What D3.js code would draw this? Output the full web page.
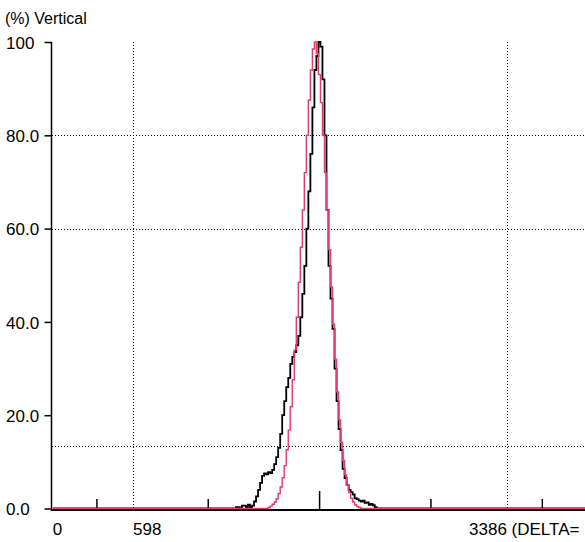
<!DOCTYPE html>
<html>
<head>
<meta charset="utf-8">
<script src="https://cdn.jsdelivr.net/npm/d3@7/dist/d3.min.js"></script>
<style>
  body { margin: 0; background: #fff; }
  text { font-family: "Liberation Sans", Arial, sans-serif; font-size: 17px; fill: #000; }
</style>
</head>
<body>
<div id="chart"></div>
<script>
// Histogram bins (position along the sensor, in pixels of the sensor)
const binStart = 1350;
const binWidth = 15;
const xMax = 3970;

// Measured vertical profile (black), % of peak, one value per bin
const measuredValues = [
  0, 0.3, 0.3, 0, 0.6, 0.6, 0.3, 0.8, 0.3, 0.6,
  1.5, 2.6, 4.0, 5.5, 7.0, 7.5, 7.3, 7.8, 7.6, 8.3,
  9.5, 11, 13, 16, 20, 23, 26, 28, 31, 32.5,
  33.5, 35, 37, 41, 46, 52, 60, 68, 76, 86,
  94, 97, 100, 99, 92, 80, 64, 52, 45, 38.5,
  30, 23, 17, 12.5, 8.5, 6.5, 5, 4, 3.5, 3,
  2.2, 2, 1.7, 1.5, 1.7, 1.2, 1.3, 0.8, 1.0, 0.7,
  0.3, 0
];

// Gaussian fit (red), % of peak, same bins
const fittedValues = [
  0, 0, 0, 0, 0, 0, 0, 0, 0, 0,
  0, 0, 0, 0, 0, 0, 0, 0.2, 0.5, 0.9,
  1.4, 2.1, 3.2, 4.6, 6.6, 9.2, 12.6, 16.8, 21.8, 27.6,
  34, 41, 48.5, 56, 64, 72, 80, 87.5, 94, 98.5,
  100, 97.5, 93, 87, 80, 72, 64, 55.5, 47.5, 39.5,
  32, 25, 19, 14.2, 10.3, 7.2, 5, 3.4, 2.2, 1.4,
  0.8, 0.4, 0.2, 0, 0, 0, 0, 0, 0, 0,
  0, 0
];

const yTickValues = [0, 20, 40, 60, 80, 100];
const yTickLabels = ['0.0', '20.0', '40.0', '60.0', '80.0', '100'];
const xTickValues = [325, 1155, 1985, 2815, 3645];
const centreTick = 1985;
const refLevels = [80, 60, 13.5];          // dotted horizontal levels (%)
const cursorPositions = [598, 3386];      // dotted vertical cursors
const xLabelValues = [0, 598, 3386];
const xLabelTexts = ['0', '598', '3386 (DELTA='];

const width = 585, height = 542;

const svg = d3.select('#chart')
  .append('svg')
  .attr('width', width)
  .attr('height', height)
  .style('display', 'block');

const x = d3.scaleLinear().domain([0, xMax]).range([52.8, 585.4]);
const y = d3.scaleLinear().domain([0, 100]).range([508.5, 42]);

// Dotted reference lines
refLevels.forEach(level => {
  svg.append('line')
    .attr('x1', 52).attr('x2', width)
    .attr('y1', Math.round(y(level)) + 0.5).attr('y2', Math.round(y(level)) + 0.5)
    .attr('stroke', '#000').attr('stroke-width', 1)
    .attr('stroke-dasharray', '1,2');
});
cursorPositions.forEach(pos => {
  svg.append('line')
    .attr('x1', Math.round(x(pos)) + 0.5).attr('x2', Math.round(x(pos)) + 0.5)
    .attr('y1', y(100)).attr('y2', 509)
    .attr('stroke', '#000').attr('stroke-width', 1)
    .attr('stroke-dasharray', '1,2');
});

// Y axis: ticks on the left, labels left aligned at the page edge
const yAxis = svg.append('g')
  .attr('transform', 'translate(51.5,0)')
  .call(d3.axisLeft(y)
    .tickValues(yTickValues)
    .tickSize(7)
    .tickSizeOuter(0)
    .tickFormat((d, i) => yTickLabels[i]));
yAxis.select('.domain').remove();
yAxis.selectAll('.tick line').attr('stroke', '#000').attr('stroke-width', 1.5);
yAxis.selectAll('.tick text')
  .attr('x', 6 - 51.5)
  .attr('text-anchor', 'start')
  .attr('dy', '0.36em')
  .style('font-family', '"Liberation Sans", Arial, sans-serif')
  .style('font-size', '17px');
svg.append('line')
  .attr('x1', 51.5).attr('x2', 51.5)
  .attr('y1', y(100)).attr('y2', 511)
  .attr('stroke', '#000').attr('stroke-width', 1.5);

// X axis: short ticks pointing up, taller one at sensor centre
const xAxis = svg.append('g')
  .attr('transform', 'translate(0,509)')
  .call(d3.axisTop(x)
    .tickValues(xTickValues)
    .tickSize(10)
    .tickSizeOuter(0)
    .tickFormat(''));
xAxis.select('.domain').remove();
xAxis.selectAll('.tick line')
  .attr('stroke', '#000').attr('stroke-width', 1.5)
  .attr('y2', d => d === centreTick ? -18 : -10);
svg.append('line')
  .attr('x1', 51).attr('x2', width)
  .attr('y1', 510).attr('y2', 510)
  .attr('stroke', '#000').attr('stroke-width', 2);

// Profiles as step lines
function toSteps(values) {
  const pts = [[0, 0]];
  values.forEach((v, i) => pts.push([binStart + i * binWidth, v]));
  pts.push([binStart + values.length * binWidth, 0]);
  pts.push([xMax, 0]);
  return pts;
}
const stepLine = d3.line()
  .x(d => x(d[0]))
  .y(d => y(d[1]))
  .curve(d3.curveStepAfter);

svg.append('path')
  .datum(toSteps(measuredValues))
  .attr('d', stepLine)
  .attr('fill', 'none')
  .attr('stroke', '#000')
  .attr('stroke-width', 1.8);

svg.append('path')
  .datum(toSteps(fittedValues))
  .attr('d', stepLine)
  .attr('fill', 'none')
  .attr('stroke', '#e23c6c')
  .attr('stroke-width', 1.4);

// X labels (the cursor label is shifted left so it ends at the frame edge)
xLabelValues.forEach((v, i) => {
  svg.append('text')
    .attr('x', i === 2 ? x(v) - 38 : x(v))
    .attr('y', 535)
    .attr('text-anchor', 'start')
    .text(xLabelTexts[i]);
});

// Axis title
svg.append('text')
  .attr('x', 5)
  .attr('y', 24)
  .style('font-size', '16px')
  .text('(%) Vertical');
</script>
</body>
</html>
